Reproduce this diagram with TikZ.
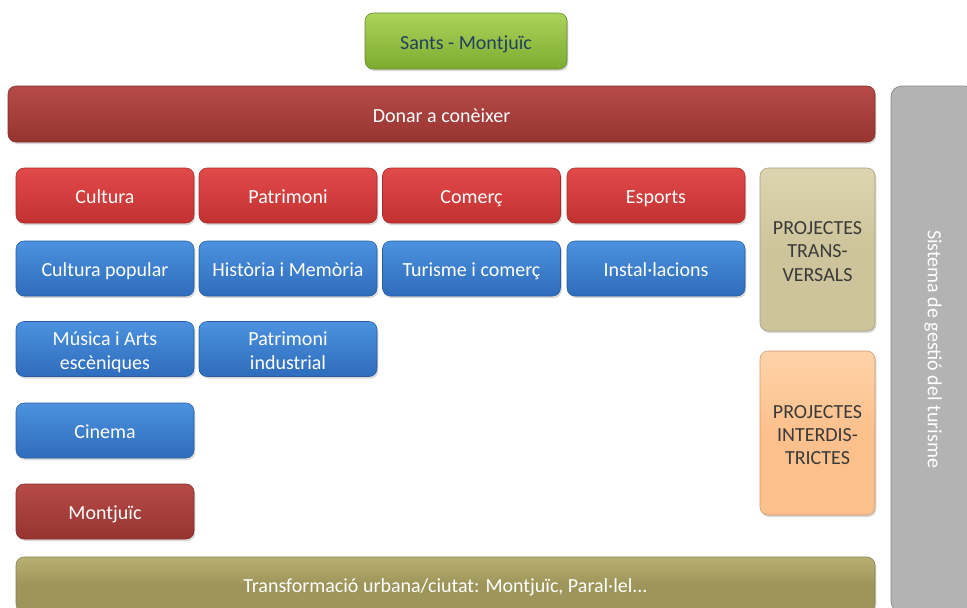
\documentclass[tikz,border=0pt]{standalone}
\usepackage{fontspec}
\setmainfont{Carlito}
\usetikzlibrary{shadows}
\definecolor{gtop}{HTML}{ACD35A}
\definecolor{gbot}{HTML}{7CAB30}
\definecolor{gtext}{HTML}{23405E}
\definecolor{drtop}{HTML}{B54B47}
\definecolor{drbot}{HTML}{973430}
\definecolor{rtop}{HTML}{E24A4A}
\definecolor{rbot}{HTML}{C23131}
\definecolor{btop}{HTML}{4C92DE}
\definecolor{bbot}{HTML}{2E6CBC}
\definecolor{olive}{HTML}{9E955A}
\definecolor{olivetop}{HTML}{B8AF72}
\definecolor{tan}{HTML}{CDC49B}
\definecolor{tantop}{HTML}{DDD5AF}
\definecolor{peach}{HTML}{FCC08C}
\definecolor{peachtop}{HTML}{FFD3A8}
\definecolor{graybox}{HTML}{B3B3B3}
\definecolor{txtdark}{HTML}{3A3A3A}
\newcommand{\mlines}[1]{\raisebox{-2.8pt}[\height][\depth]{\begin{tabular}{@{}c@{}}#1\end{tabular}}}
\begin{document}
\begin{tikzpicture}[x=0.75pt,y=-0.75pt,
  base/.style={rounded corners=6pt, align=center, inner sep=2pt,
    font=\fontsize{15}{17.5}\selectfont,
    drop shadow={shadow xshift=1pt, shadow yshift=-1.5pt, opacity=0.3}},
  oneline/.style={text height=14pt, text depth=2pt},
  greenbox/.style={base, oneline, top color=gtop, bottom color=gbot, draw=gbot!80!black, line width=0.4pt, text=gtext},
  darkredbox/.style={base, top color=drtop, bottom color=drbot, draw=drbot!85!black, line width=0.4pt, text=white},
  redbox/.style={base, oneline, top color=rtop, bottom color=rbot, draw=rbot!85!black, line width=0.4pt, text=white,
    minimum width=133.5pt, minimum height=41.25pt},
  bluebox/.style={base, top color=btop, bottom color=bbot, draw=bbot!85!black, line width=0.4pt, text=white,
    minimum width=133.5pt, minimum height=41.25pt},
  mrbox/.style={darkredbox, oneline, minimum width=133.5pt, minimum height=41.25pt},
  olivebox/.style={base, oneline, top color=olivetop, bottom color=olive, middle color=olive, draw=olive!85!black, line width=0.4pt, text=white},
  tanbox/.style={base, top color=tantop, bottom color=tan, middle color=tan, draw=tan!80!black, line width=0.4pt, text=txtdark,
    minimum width=86.25pt, minimum height=122.25pt},
  peachbox/.style={base, top color=peachtop, bottom color=peach, middle color=peach, draw=peach!80!black, line width=0.4pt, text=txtdark,
    minimum width=86.25pt, minimum height=123pt},
  graystyle/.style={rounded corners=8pt, fill=graybox, draw=graybox!75!black, line width=0.5pt,
    drop shadow={shadow xshift=1pt, shadow yshift=-1.5pt, opacity=0.25}}
]
\useasboundingbox (0,0) rectangle (967,607);
\clip (0,0) rectangle (967,607);
\fill[white] (0,0) rectangle (967,607);

% right gray bar
\node[graystyle, minimum width=63pt, minimum height=394.5pt, inner sep=0pt] (gray) at (933,349) {};
\node[rotate=-90, text=white, font=\fontsize{15}{18}\selectfont] (graytext) at (933,349) {Sistema de gestió del turisme};

\node[greenbox, minimum width=151.5pt, minimum height=42pt] (sants) at (466,41) {Sants - Montjuïc};
\node[darkredbox, oneline, minimum width=650.25pt, minimum height=42pt] (donar) at (441.5,114) {Donar a conèixer};

\node[redbox] (cultura) at (105,195.5) {Cultura};
\node[redbox] (patrimoni) at (288,195.5) {Patrimoni};
\node[redbox] (comerc) at (471.5,195.5) {Comerç};
\node[redbox] (esports) at (656,195.5) {Esports};

\node[bluebox, oneline] (cpop) at (105,268.5) {Cultura popular};
\node[bluebox, oneline] (hist) at (288,268.5) {Història i Memòria};
\node[bluebox, oneline] (tur) at (471.5,268.5) {Turisme i comerç};
\node[bluebox, oneline] (inst) at (656,268.5) {Instal·lacions};

\node[bluebox] (musica) at (105,349) {\mlines{Música i Arts\\escèniques}};
\node[bluebox] (pind) at (288,349) {\mlines{Patrimoni\\industrial}};

\node[bluebox, oneline] (cinema) at (105,430.5) {Cinema};
\node[mrbox] (montjuic) at (105,511.5) {Montjuïc};

\node[tanbox] (trans) at (817.5,249.5) {\mlines{PROJECTES\\TRANS-\\VERSALS}};
\node[peachbox] (inter) at (817.5,433) {\mlines{PROJECTES\\INTERDIS-\\TRICTES}};

\node[olivebox, minimum width=644.25pt, minimum height=41.25pt] (transf) at (445.5,584.5) {Transformació urbana/ciutat: Montjuïc, Paral·lel...};
\end{tikzpicture}
\end{document}
